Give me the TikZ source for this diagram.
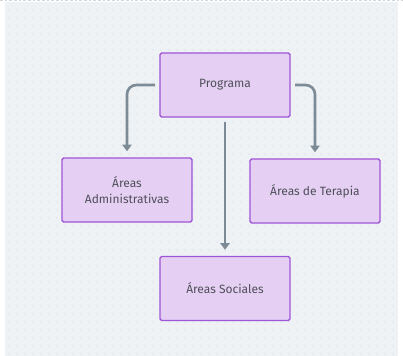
\documentclass[tikz,border=0pt]{standalone}
\usepackage{fontspec}
\setmainfont{Fira Sans}
\usetikzlibrary{arrows.meta}
\definecolor{bg}{HTML}{EEF2F5}
\definecolor{boxfill}{HTML}{E5D0F3}
\definecolor{boxline}{HTML}{9E55D6}
\definecolor{arrowc}{HTML}{7D8B96}
\definecolor{txt}{HTML}{4F4F5A}
\definecolor{dotc}{HTML}{D2D7DC}
\tikzset{
  box/.style={draw=boxline, fill=boxfill, line width=1.1pt, rounded corners=1.2pt,
    minimum width=130*0.75pt, minimum height=64*0.75pt, inner sep=0pt,
    text=txt, font=\fontsize{9}{11.5}\selectfont, align=center},
  conn/.style={draw=arrowc, line width=2pt, rounded corners=7pt,
    -{Triangle[length=5pt,width=7pt]}},
}
\begin{document}
\begin{tikzpicture}[x=0.75pt,y=-0.75pt]
\useasboundingbox (0,0) rectangle (403,356);
\fill[white] (0,0) rectangle (403,356);
\fill[bg] (5,2) rectangle (398,356);
\draw[dotc, line width=0.8pt, dash pattern=on 2pt off 1.5pt] (0,0.7) -- (403,0.7);
\foreach \i in {0,...,48} {
  \foreach \j in {0,...,43} {
    \fill[dotc] (9+8*\i,10+8*\j) circle (0.55pt);
  }
}
\node[box] (prog) at (225,85) {Programa};
\node[box] (adm) at (127,190) {Áreas\\Administrativas};
\node[box] (ter) at (315,191) {Áreas de Terapia};
\node[box] (soc) at (225,288.5) {Áreas Sociales};
\coordinate (pl) at (155,85);
\coordinate (pr) at (295,85);
\coordinate (pb) at (225,122);
\draw[conn] (pl) -| ([yshift=4.5pt]adm.north);
\draw[conn] (pr) -| ([yshift=4.5pt]ter.north);
\draw[conn] (pb) -- ([yshift=4.5pt]soc.north);
\end{tikzpicture}
\end{document}
